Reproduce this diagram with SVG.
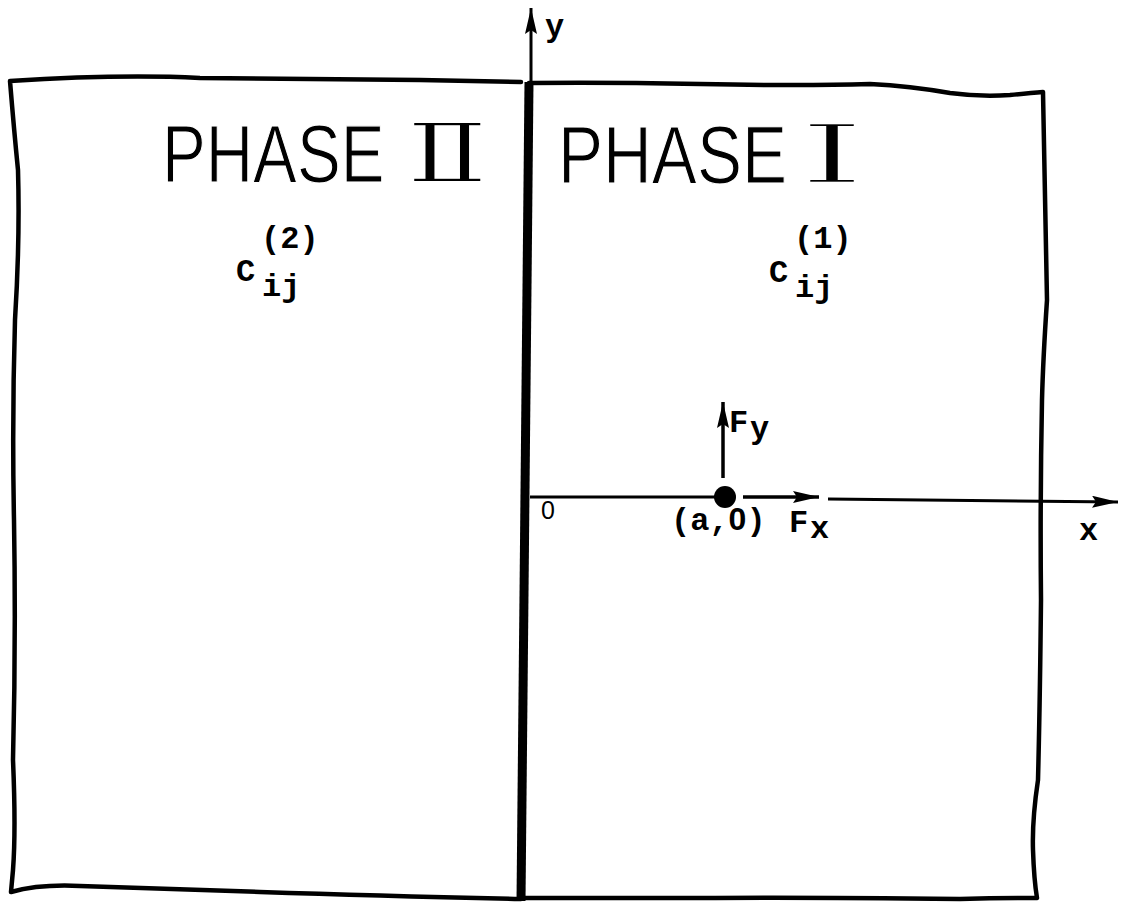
<svg xmlns="http://www.w3.org/2000/svg" width="1123" height="902" viewBox="0 0 1123 902">
  <style>
    .border { fill: none; stroke: #000; stroke-width: 4.5; stroke-linejoin: round; stroke-linecap: round; }
    .axis { fill: none; stroke: #000; stroke-width: 3; }
    .force { fill: none; stroke: #000; stroke-width: 3.5; }
    .phase { font-family: "Liberation Sans", "DejaVu Sans", sans-serif; font-size: 82px; fill: #000; stroke: #fff; stroke-width: 1.2; }
    .roman { font-family: "DejaVu Serif", "Liberation Serif", serif; font-size: 82px; fill: #000; stroke: #fff; stroke-width: 2; }
    .typed { font-family: "Liberation Mono", "Courier New", monospace; font-weight: bold; font-size: 32px; fill: #000; }
    .zero { font-family: "Liberation Sans", "Arial", sans-serif; }
    .small { font-family: "Liberation Sans", "Arial", sans-serif; font-size: 22px; fill: #000; }
  </style>
  <defs>
    <marker id="arrow" markerUnits="userSpaceOnUse" markerWidth="28" markerHeight="12" refX="26" refY="6" orient="auto">
      <path d="M0,0 L26,6 L0,12 L4,6 Z" fill="#000"/>
    </marker>
  </defs>
  <rect width="1123" height="902" fill="#fff"/>

  <g id="phase2">
    <path class="border" d="M521,82 Q480,81 420,80 Q300,79 200,78 Q120,74 10,81 Q14,130 18,170 Q20,240 15,320 Q12,420 14,520 Q16,640 13,760 Q16,830 13,870 L11,892 Q40,884 80,886 Q160,889 260,892 Q380,896 521,899"/>
    <text class="phase" transform="translate(162,182) scale(0.8,1)">PHASE</text>
    <text class="roman" transform="translate(406,182) scale(1.48,1)">Ⅱ</text>
    <text class="typed" x="236" y="281">C</text>
    <text class="typed" x="261" y="248">(2)</text>
    <text class="typed" x="262" y="296">ij</text>
  </g>

  <g id="phase1">
    <path class="border" d="M529,83 Q600,82 700,84 Q800,86 870,84 Q910,86 950,93 Q980,97 1010,95 Q1030,93 1043,92 Q1045,200 1047,300 Q1043,360 1042,400 Q1040,500 1041,600 Q1040,700 1038,780 Q1032,820 1033,850 Q1034,880 1037,898 Q1000,898 960,899 Q800,897 700,898 Q600,898 525,898"/>
    <text class="phase" transform="translate(558,183) scale(0.824,1)">PHASE</text>
    <text class="roman" transform="translate(798,183) scale(2.1,1)" style="stroke-width:2.6">Ⅰ</text>
    <text class="typed" x="769" y="282">C</text>
    <text class="typed" x="794" y="248">(1)</text>
    <text class="typed" x="795" y="297">ij</text>
  </g>

  <g id="interface">
    <line x1="529" y1="82" x2="521" y2="901" stroke="#000" stroke-width="9"/>
  </g>

  <g id="load-point">
    <circle cx="725" cy="497" r="11" fill="#000"/>
    <text class="typed" x="671" y="530">(a,<tspan class="zero">0</tspan>)</text>
  </g>

  <g id="connectors">
    <line class="axis" x1="531" y1="84" x2="531" y2="8" marker-end="url(#arrow)"/>
    <line class="axis" x1="530" y1="497" x2="716" y2="497"/>
    <line class="axis" x1="828" y1="499" x2="1118" y2="502" marker-end="url(#arrow)"/>
    <line class="force" x1="743" y1="497" x2="819" y2="497" marker-end="url(#arrow)"/>
    <line class="force" x1="723" y1="478" x2="723" y2="402" marker-end="url(#arrow)"/>
  </g>

  <g id="labels">
    <text class="typed" x="545" y="36">y</text>
    <text class="typed" x="1079" y="540">x</text>
    <text class="small" x="541" y="519" style="font-size:25px">0</text>
    <text class="typed" x="729" y="432">F</text>
    <text class="typed" x="750" y="438">y</text>
    <text class="typed" x="789" y="532">F</text>
    <text class="typed" x="810" y="538">x</text>
  </g>
</svg>
